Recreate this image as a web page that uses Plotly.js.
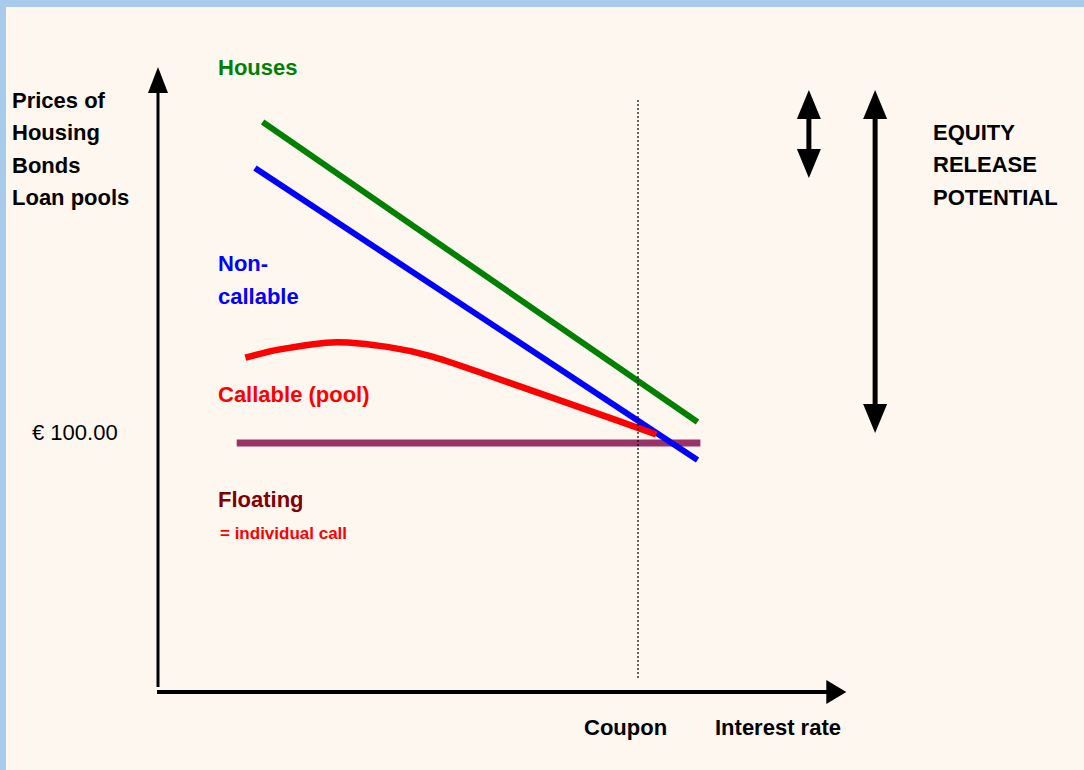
<!DOCTYPE html>
<html>
<head>
<meta charset="utf-8">
<script src="https://cdn.plot.ly/plotly-3.0.1.min.js"></script>
<style>
html,body{margin:0;padding:0;background:#a9cbeb;}
#chart{width:1084px;height:770px;}
</style>
</head>
<body>
<div id="chart"></div>
<script>
// ---- Data (x: interest rate, origin 0, coupon 5; y: price, par = 100) ----
const housesRate = [1.09, 5.62];
const housesPrice = [228.9, 108.4];
const nonCallableRate = [1.01, 5.62];
const nonCallablePrice = [210.4, 93.2];
const callableRate = [0.91, 1.27, 1.86, 2.39, 2.83, 3.43, 4.12, 4.81, 5.19];
const callablePrice = [134.3, 137.6, 140.5, 138.6, 135.0, 127.3, 118.0, 108.7, 103.4];
const floatingRate = [0.82, 5.65];
const floatingPrice = [100, 100];
const couponRate = 5.0;
const couponLineRange = [5.6, 238.6];
const axisTipRate = 7.17;
const axisTipPrice = 251.0;
const smallArrow = {x: 6.78, y: [206.4, 241.8]};
const bigArrow = {x: 7.47, y: [104.0, 241.8]};

const yLabelLines = ['Prices of', 'Housing', 'Bonds', 'Loan pools'];
const equityLines = ['EQUITY', 'RELEASE', 'POTENTIAL'];
const parLabel = '€ 100.00';

// ---- helpers ----
const W = 1084, H = 770, ML = 6, MT = 7;
const PX = px => (px - ML) / (W - ML);
const PY = py => (H - py) / (H - MT);
const FONT = 'Liberation Sans, Arial, sans-serif';

function label(text, px, py, color, size, bold, anchor) {
  return {
    text: text, xref: 'paper', yref: 'paper', x: PX(px), y: PY(py),
    xanchor: anchor || 'left', yanchor: 'middle', showarrow: false,
    font: {family: FONT, size: size, color: color, weight: bold ? 'bold' : 'normal'}
  };
}
function head(x, y, dir, len, wid) {
  const h = wid / 2;
  let p;
  if (dir === 'up') p = `M0,0 L${-h},${-len} L${h},${-len} Z`;
  else if (dir === 'down') p = `M0,0 L${-h},${len} L${h},${len} Z`;
  else p = `M0,0 L${-len},${h} L${-len},${-h} Z`;
  return {type: 'path', xref: 'x', yref: 'y', xsizemode: 'pixel', ysizemode: 'pixel',
    xanchor: x, yanchor: y, path: p, fillcolor: '#000', line: {width: 0}};
}
function seg(x0, y0, x1, y1, w, dash) {
  return {type: 'line', xref: 'x', yref: 'y', x0: x0, y0: y0, x1: x1, y1: y1,
    line: {color: '#000', width: w, dash: dash || 'solid'}};
}
const YS = 2.49, XS = 96; // px per unit

const shapes = [
  seg(couponRate, couponLineRange[0], couponRate, couponLineRange[1], 1.2, '2px,2px'),
  seg(0, 2, 0, axisTipPrice - 24 / YS, 3),
  head(0, axisTipPrice, 'up', 26, 20),
  seg(-0.01, 0, axisTipRate - 18 / XS, 0, 4),
  head(axisTipRate, 0, 'right', 20, 24),
  seg(smallArrow.x, smallArrow.y[0] + 26 / YS, smallArrow.x, smallArrow.y[1] - 26 / YS, 5),
  head(smallArrow.x, smallArrow.y[1], 'up', 29, 24),
  head(smallArrow.x, smallArrow.y[0], 'down', 29, 24),
  seg(bigArrow.x, bigArrow.y[0] + 26 / YS, bigArrow.x, bigArrow.y[1] - 26 / YS, 5),
  head(bigArrow.x, bigArrow.y[1], 'up', 29, 24),
  head(bigArrow.x, bigArrow.y[0], 'down', 29, 24)
];

const annotations = [
  label('Houses', 216, 67, '#008000', 22, true),
  label('Non-', 216, 263, '#0000ff', 22, true),
  label('callable', 216, 296, '#0000ff', 22, true),
  label('Callable (pool)', 216, 395, '#ff0000', 22, true),
  label('Floating', 216, 499, '#800000', 22, true),
  label('= individual call', 218, 534, '#ff0000', 17, true),
  label(parLabel, 30, 433, '#000', 22, false),
  label('Coupon', 625, 727, '#000', 22, true, 'center'),
  label('Interest rate', 713, 727, '#000', 22, true)
];
yLabelLines.forEach((t, i) => annotations.push(label(t, 10, 100 + i * 32.6, '#000', 22, true)));
equityLines.forEach((t, i) => annotations.push(label(t, 931, 132 + i * 32.6, '#000', 22, true)));

const traces = [
  {x: floatingRate, y: floatingPrice, mode: 'lines', line: {color: '#993366', width: 7}, name: 'Floating'},
  {x: nonCallableRate, y: nonCallablePrice, mode: 'lines', line: {color: '#0000ff', width: 6}, name: 'Non-callable'},
  {x: housesRate, y: housesPrice, mode: 'lines', line: {color: '#008000', width: 6}, name: 'Houses'},
  {x: callableRate, y: callablePrice, mode: 'lines', line: {color: '#ff0000', width: 6.5, shape: 'spline', smoothing: 1}, name: 'Callable (pool)'}
];

const layout = {
  width: W, height: H,
  margin: {l: ML, t: MT, r: 0, b: 0, pad: 0},
  paper_bgcolor: '#a9cbeb', plot_bgcolor: '#fef7f0',
  showlegend: false,
  xaxis: {range: [-(158 - ML) / XS, (W - 158) / XS], visible: false, fixedrange: true},
  yaxis: {range: [-(H - 692) / YS, (692 - MT) / YS], visible: false, fixedrange: true},
  shapes: shapes,
  annotations: annotations
};

Plotly.newPlot('chart', traces, layout, {staticPlot: true, displayModeBar: false});
</script>
</body>
</html>
